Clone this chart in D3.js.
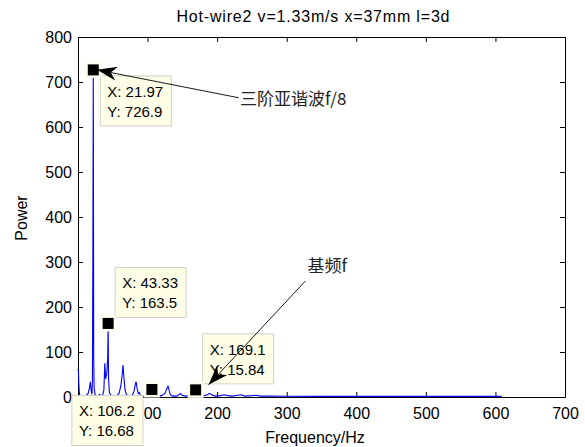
<!DOCTYPE html>
<html>
<head>
<meta charset="utf-8">
<script src="https://cdn.jsdelivr.net/npm/d3@7"></script>
<style>
  body { margin: 0; background: #fff; }
  svg { display: block; font-family: "Liberation Sans", Arial, sans-serif; }
  .cjk { font-family: "Noto Sans CJK SC", sans-serif; }
</style>
</head>
<body>
<svg width="585" height="447"></svg>
<script>
"use strict"

// spectrum (Hz, power)
let freqs = [0, 0.6, 1.2, 1.8, 2.4, 3.7, 6, 9, 12, 14.6, 16.5, 17.7, 18.9, 20.1, 20.75, 21.36, 21.97, 22.58, 23.2, 24.4,
  26.9, 29.3, 31.1, 32.4, 35.4, 37.2, 38.5, 39.7, 41.5, 42.7, 43.33, 43.9, 45.2, 47.6, 52, 56, 59, 61.6, 63.5, 64.7,
  65.9, 67.7, 70, 74, 78, 80.5, 82.3, 83.5, 84.8, 86.6, 88, 89.5, 92, 98, 103, 105, 106.2, 107.4, 110, 115,
  120, 125, 127.6, 129.4, 130.6, 132.4, 136, 142, 145, 147.3, 149.5, 155, 163, 167, 169.1, 171, 175, 181, 186, 189,
  192, 197, 205, 210, 215, 222, 230, 234, 240, 250, 256, 262, 275, 300, 350, 400, 450, 500, 550, 609]
let power = [62, 58, 30, 12, 5, 2, 1, 2, 4, 8, 20, 34, 15, 6, 40, 324, 726.9, 90, 20, 6,
  2, 3, 6, 3, 4, 15, 75, 40, 55, 90, 163.5, 40, 10, 3, 2, 3, 8, 25, 50, 71,
  45, 15, 4, 2, 4, 12, 28, 34, 20, 8, 10, 4, 2, 2, 3, 8, 16.68, 8, 3, 2,
  3, 8, 18, 24, 18, 6, 2, 2, 5, 8, 4, 2, 3, 9, 15.84, 8, 3, 3, 5, 8,
  5, 2, 3, 5, 3, 2, 4, 5, 2, 3, 4, 2, 2, 1.5, 1.5, 1.5, 1.5, 1.5, 1.5, 1.5]

let xTicks = [0, 100, 200, 300, 400, 500, 600, 700]
let yTicks = [0, 100, 200, 300, 400, 500, 600, 700, 800]

// data tips: x, y, where the box sits
let tipX = [21.97, 43.33, 106.2, 169.1]
let tipY = [726.9, 163.5, 16.68, 15.84]
let tipSide = ["br", "tr", "bl", "tr"]

// text arrows in data units
let arrowText = ["三阶亚谐波f/8", "基频f"]
let arrowFrom = [[231, 665], [327, 258]]
let arrowTo = [[27.3, 727], [187.6, 27]]
let arrowLabel = [[233, 650], [330, 278]]

let title = "Hot-wire2  v=1.33m/s x=37mm l=3d"

let svg = d3.select("svg")
let x = d3.scaleLinear().domain([0, 700]).range([78, 565])
let y = d3.scaleLinear().domain([0, 800]).range([397, 37])

/* axes, MATLAB style: inward ticks on all four sides */
let fs = "16px"
svg.append("g")
  .attr("transform", "translate(0," + y(0) + ")")
  .call(d3.axisBottom(x).tickValues(xTicks).tickSizeInner(-5).tickSizeOuter(0).tickPadding(11))
svg.append("g")
  .attr("transform", "translate(" + x(0) + ",0)")
  .call(d3.axisLeft(y).tickValues(yTicks).tickSizeInner(-5).tickSizeOuter(0).tickPadding(6))
svg.append("g")
  .attr("transform", "translate(0," + y(800) + ")")
  .call(d3.axisTop(x).tickValues(xTicks).tickSizeInner(-5).tickSizeOuter(0).tickFormat(""))
svg.append("g")
  .attr("transform", "translate(" + x(700) + ",0)")
  .call(d3.axisRight(y).tickValues(yTicks).tickSizeInner(-5).tickSizeOuter(0).tickFormat(""))
svg.selectAll(".tick text").attr("font-size", fs).attr("fill", "#000").attr("font-family", null)
svg.selectAll(".domain, .tick line").attr("stroke", "#000")

/* spectrum */
let line = d3.line().x(d => x(d[0])).y(d => y(d[1]))
svg.append("path")
  .datum(d3.zip(freqs, power))
  .attr("d", line)
  .attr("fill", "none")
  .attr("stroke", "#0000ff")
  .attr("stroke-width", 1.1)

/* labels */
svg.append("text")
  .attr("x", 313).attr("y", 22)
  .attr("text-anchor", "middle")
  .attr("font-size", "16px")
  .attr("textLength", 273)
  .text(title)
svg.append("text")
  .attr("x", 315).attr("y", 443)
  .attr("text-anchor", "middle")
  .attr("font-size", fs)
  .text("Frequency/Hz")
svg.append("text")
  .attr("transform", "translate(27,218) rotate(-90)")
  .attr("text-anchor", "middle")
  .attr("font-size", fs)
  .text("Power")

/* data tips */
let bw = 71, bh = 50
tipX.forEach((tx, i) => {
  let mx = x(tx), my = y(tipY[i])
  let bx = tipSide[i].includes("l") ? mx - 9 - bw : mx + 7
  let by = tipSide[i][0] == "b" ? my + 6 : my - 6 - bh
  let tip = svg.append("g")
  tip.append("rect")
    .attr("x", bx).attr("y", by).attr("width", bw).attr("height", bh)
    .attr("fill", "#ffffe8").attr("stroke", "#d0d0c8").attr("stroke-width", 1)
  tip.append("text").attr("x", bx + 7).attr("y", by + 21).attr("font-size", "15px").text("X: " + tx)
  tip.append("text").attr("x", bx + 7).attr("y", by + 41).attr("font-size", "15px").text("Y: " + tipY[i])
  tip.append("rect")
    .attr("x", mx - 8).attr("y", my - 8).attr("width", 16).attr("height", 16)
    .attr("fill", "#fffff0")
  tip.append("rect")
    .attr("x", mx - 5.5).attr("y", my - 5.5).attr("width", 11).attr("height", 11)
    .attr("fill", "#000")
})

/* arrows with text, drawn over the tips */
let arrowHead = (x1, y1, x2, y2) => {
  let a = Math.atan2(y2 - y1, x2 - x1), len = 20, w = 7
  let p = (l, s) => [x2 - l * Math.cos(a) + s * Math.sin(a), y2 - l * Math.sin(a) - s * Math.cos(a)]
  return "M" + [[x2, y2], p(len, w), p(len * 0.7, 0), p(len, -w)].join("L") + "Z"
}
arrowText.forEach((t, i) => {
  let x1 = x(arrowFrom[i][0]), y1 = y(arrowFrom[i][1])
  let x2 = x(arrowTo[i][0]), y2 = y(arrowTo[i][1])
  svg.append("line")
    .attr("x1", x1).attr("y1", y1).attr("x2", x2).attr("y2", y2)
    .attr("stroke", "#000").attr("stroke-width", 0.9)
  svg.append("path").attr("d", arrowHead(x1, y1, x2, y2)).attr("fill", "#000")
  svg.append("text")
    .attr("class", "cjk")
    .attr("x", x(arrowLabel[i][0])).attr("y", y(arrowLabel[i][1]))
    .attr("font-size", "17px")
    .attr("fill", "#222")
    .text(t)
})
</script>
</body>
</html>
